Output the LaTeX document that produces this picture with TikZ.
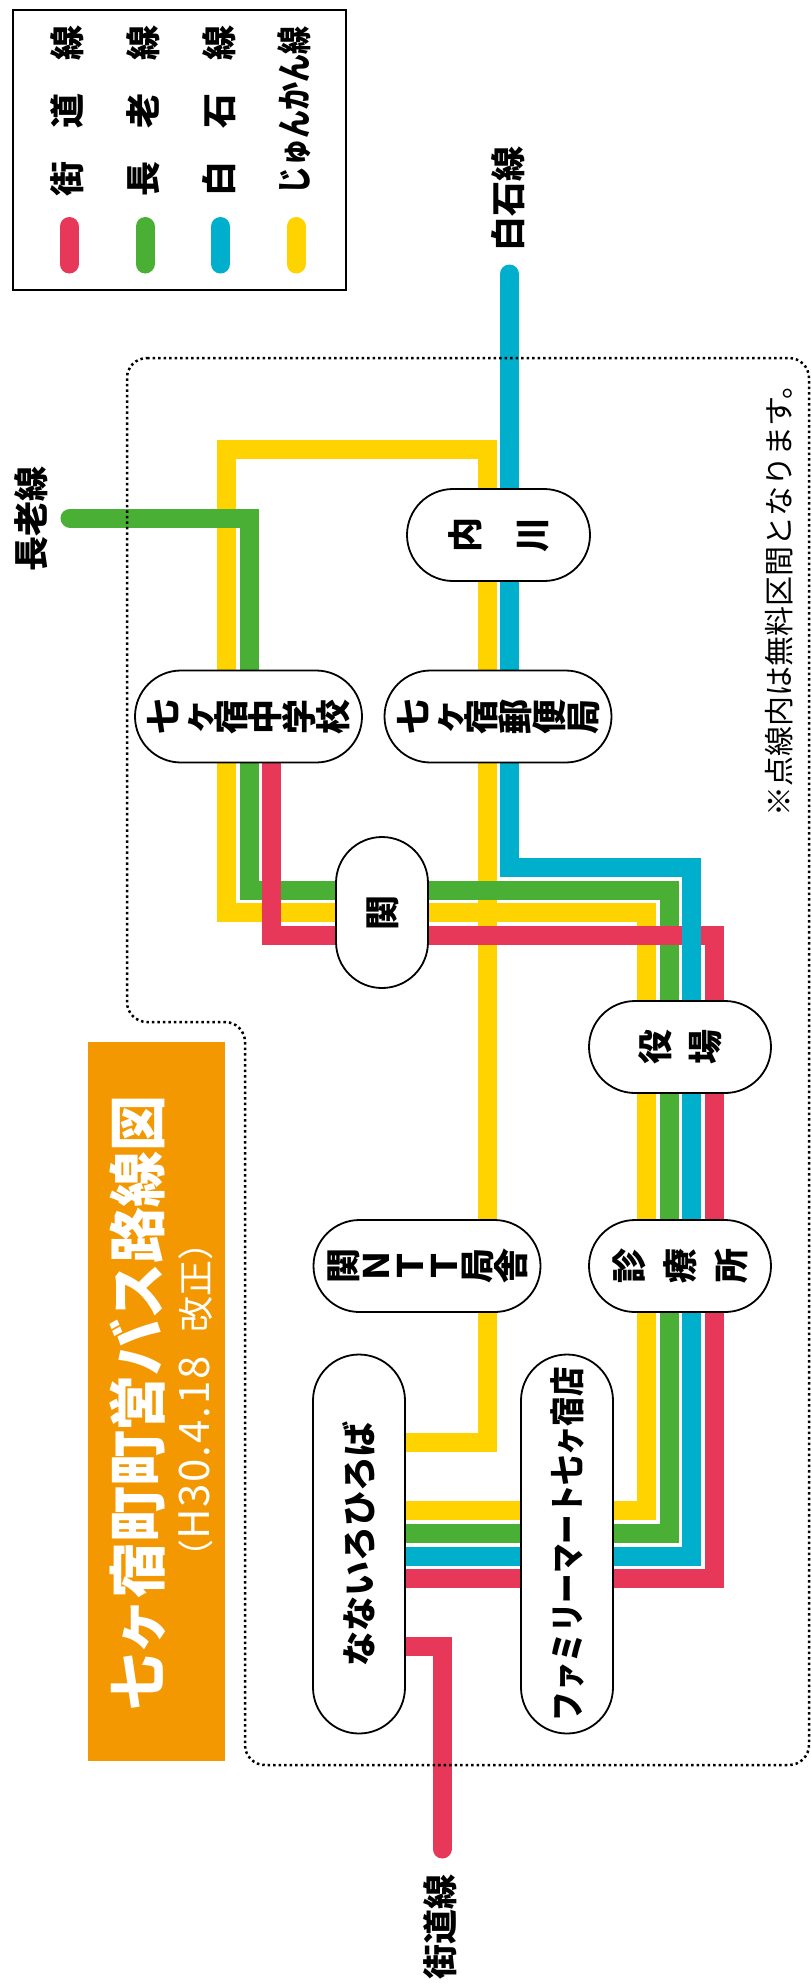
\documentclass[tikz,border=0pt]{standalone}
\usepackage{graphicx}
\usepackage{fontspec}
\setmainfont{Noto Sans CJK JP}
\usetikzlibrary{shapes.misc}
\usetikzlibrary{backgrounds}

\definecolor{kaido}{HTML}{E83859}
\definecolor{choro}{HTML}{49B035}
\definecolor{shiroishi}{HTML}{00AFCC}
\definecolor{junkan}{HTML}{FFD300}
\definecolor{obi}{HTML}{F39800}

\newcommand{\fsz}[1]{\fontsize{#1}{#1}\selectfont}
\makeatletter
\newcommand{\stntext}[2]{\@tfor\stn@ch:=#2\do{\makebox[#1]{\rotatebox[origin=c]{90}{\smash{\raisebox{-.38em}{\stn@ch}}}}}}
\makeatother

\tikzset{
  strutted/.style={execute at begin node={\rule[-.12em]{0pt}{1em}}},
  stn/.style={rounded rectangle, draw=black, fill=white, line width=1.8pt,
    minimum height=92pt, inner sep=0pt, font=\fsz{35}\bfseries},
  stnup/.style={stn, strutted, rotate=90},
  routeline/.style={line width=19pt, line cap=round, miter limit=10},
  lbl/.style={inner sep=0pt, rotate=90, strutted, font=\fsz{35}\bfseries}
}

\begin{document}
\begin{tikzpicture}[x=1pt, y=-1pt]
    \useasboundingbox (0,0) rectangle (811,1984);

    \node[stn, minimum width=183pt] (uchikawa) at (498.5,535) {\stntext{67.5pt}{内川}};
    \node[stn, minimum width=227pt] (chugaku) at (248.5,716.5) {\stntext{34pt}{七ヶ宿中学校}};
    \node[stn, minimum width=227pt] (yubin) at (498,716.5) {\stntext{34pt}{七ヶ宿郵便局}};
    \node[stnup, minimum width=151pt] (seki) at (382,912.5) {関};
    \node[stn, minimum width=182pt] (yakuba) at (680,1047) {\stntext{50pt}{役場}};
    \node[stn, minimum width=227pt] (ntt) at (427,1266) {\stntext{33.6pt}{関ＮＴＴ局舎}};
    \node[stn, minimum width=182pt] (shinryo) at (680,1266) {\stntext{51pt}{診療所}};
    \node[stnup, minimum width=379pt] (nanairo) at (359,1544) {なないろひろば};
    \node[stnup, minimum width=379pt] (fami) at (567,1544) {\scalebox{.843}[1]{ファミリーマート七ヶ宿店}};

    \coordinate (shiroishiend) at (509.5,274);
    \coordinate (choroend) at (70,518);
    \coordinate (kaidoend) at (442,1849);

    \begin{pgfonlayer}{background}
      \draw[routeline, junkan] (nanairo |- 0,1510.5) -- (646.5,1510.5) -- (646.5,912.5)
      -- (226,912.5) -- (226,449.5) -- (487,449.5) -- (487,1442.5) -- (nanairo |- 0,1442.5);
      \draw[routeline, choro] (choroend) -- (249,518) -- (249,890.5) -- (669,890.5)
      -- (669,1533) -- (nanairo |- 0,1533);
      \draw[routeline, kaido] (271.5,0 |- chugaku) -- (271.5,935.5) -- (714,935.5)
      -- (714,1578.5) -- (nanairo |- 0,1578.5);
      \draw[routeline, kaido] (nanairo |- 0,1646.5) -- (442,1646.5) -- (kaidoend);
      \draw[routeline, shiroishi] (shiroishiend) -- (509.5,867.5) -- (691.5,867.5)
      -- (691.5,1556) -- (nanairo |- 0,1556);
    \end{pgfonlayer}

    \draw[line width=2.5pt, dash pattern=on 2.5pt off 3pt, rounded corners=20pt]
    (127,358) -- (809,358) -- (809,1765) -- (245,1765) -- (245,1022) -- (127,1022) -- cycle;

    \draw[line width=2.5pt] (13,10) rectangle (346,290);
    \foreach \x/\col in {69.3/kaido, 145/choro, 220.5/shiroishi, 296/junkan}
      \draw[line width=19pt, line cap=round, \col] (\x,226.5) -- (\x,264);
    \node[lbl] (lgkaido) at (67,111) {街\hspace{33pt}道\hspace{33pt}線};
    \node[lbl] (lgchoro) at (143,111) {長\hspace{33pt}老\hspace{33pt}線};
    \node[lbl] (lgshiroishi) at (219,111) {白\hspace{33pt}石\hspace{33pt}線};
    \node[lbl] (lgjunkan) at (294,110.5) {\scalebox{.8}[1]{じゅんかん線}};

    \node[lbl] (shiroishilbl) at (508,199) {白石線};
    \node[lbl] (chorolbl) at (31,518.5) {長老線};
    \node[lbl] (kaidolbl) at (440,1926.5) {街道線};
    \node[lbl, font=\fsz{30}] (note) at (778.6,593) {※点線内は無料区間となります。};

    \fill[obi] (88,1042) rectangle (225,1760.5);
    \node[lbl, white, font=\fsz{58}\bfseries] (title) at (137.5,1403) {\scalebox{.965}[1]{七ヶ宿町町営バス路線図}};
    \node[lbl, white, font=\fsz{36}] (subtitle) at (195.5,1400)
    {（{\fsz{42}\addfontfeature{LetterSpace=4.5}H30.4.18}\hspace{24pt}改正）};
\end{tikzpicture}
\end{document}
